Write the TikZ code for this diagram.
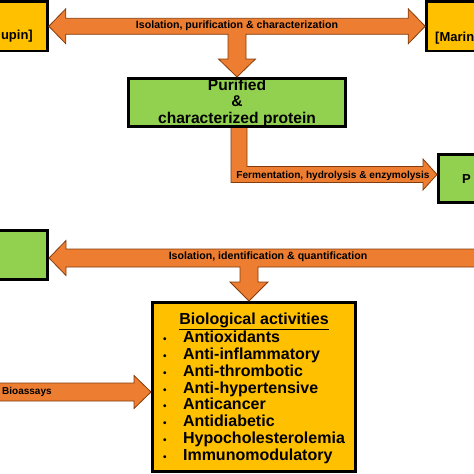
\documentclass[tikz,border=0pt]{standalone}
\usepackage{fontspec}
\setmainfont{Liberation Sans}
\usetikzlibrary{calc, positioning}
\definecolor{boxgreen}{HTML}{92D050}
\definecolor{boxgold}{HTML}{FFC000}
\definecolor{arroworange}{HTML}{ED7D31}
\definecolor{arrowline}{HTML}{843C0C}
\newcommand{\actbullet}{{\fontsize{10}{10}\selectfont\textbullet}}

\begin{document}
\begin{tikzpicture}[
    x=1pt, y=1pt,
    box/.style={draw=black, line width=2.6pt, align=center, inner sep=0pt},
    greenbox/.style={box, fill=boxgreen},
    goldbox/.style={box, fill=boxgold},
    srctext/.style={font=\fontsize{13}{16}\selectfont\bfseries, inner sep=0pt},
    fatarrow/.style={fill=arroworange, draw=arrowline, line width=0.8pt, line join=miter},
    arrowlabel/.style={font=\fontsize{10.6}{12}\selectfont\bfseries, inner sep=0pt}
]
\useasboundingbox (0,0) rectangle (474,-474);
\clip (0,0) rectangle (474,-474);

% boxes
\node[goldbox, minimum width=107.5pt, minimum height=49.5pt] (lupin) at (-6.25,-26.25) {};
\node[srctext, anchor=base east] (lupintext) at (33,-39) {upin]};
\node[goldbox, minimum width=113pt, minimum height=49.5pt] (marine) at (483,-26.25) {};
\node[srctext, anchor=base west] (marinetext) at (435,-41.5) {[Marin};

\node[greenbox, minimum width=217.4pt, minimum height=48.4pt, font=\fontsize{15.6}{16.5}\selectfont\bfseries] (purified) at (237,-102.5) {Purified\\\&\\characterized protein};

\node[greenbox, minimum width=121pt, minimum height=48.4pt] (protein) at (498.8,-178.5) {};
\node[srctext, anchor=base west] (proteintext) at (462,-183) {P};

\node[greenbox, minimum width=110pt, minimum height=49.4pt] (source) at (-7.3,-255) {};

\node[goldbox, minimum width=203.4pt, minimum height=169.4pt, font=\fontsize{16}{16.8}\selectfont\bfseries] (bio) at (254,-387) {\rule{0pt}{15.5pt}\underline{Biological activities}\\[0.5pt]
    \begin{tabular}{@{}l@{\hspace{16.5pt}}l@{}}
    \actbullet & Antioxidants\\
    \actbullet & Anti-inflammatory\\
    \actbullet & Anti-thrombotic\\
    \actbullet & Anti-hypertensive\\
    \actbullet & Anticancer\\
    \actbullet & Antidiabetic\\
    \actbullet & Hypocholesterolemia\\
    \actbullet & Immunomodulatory
    \end{tabular}};

% free ends
\coordinate (rightend) at (480,-258);
\coordinate (leftend) at (-10,-392);
\coordinate (fermstart) at (purified.south|-protein.west);

% block arrows
\draw[fatarrow] let \p1=(lupin.east), \p2=(marine.west), \p3=(purified.north) in
    (\x1,\y1) -- (\x1+17pt,\y1+17.5pt) -- (\x1+17pt,\y1+8pt) -- (\x2-17pt,\y1+8pt)
    -- (\x2-17pt,\y1+17.5pt) -- (\x2,\y1) -- (\x2-17pt,\y1-17.5pt) -- (\x2-17pt,\y1-8pt)
    -- (\x3+9pt,\y1-8pt) -- (\x3+9pt,\y3+18pt) -- (\x3+18.5pt,\y3+18pt) -- (\x3,\y3)
    -- (\x3-18.5pt,\y3+18pt) -- (\x3-9pt,\y3+18pt) -- (\x3-9pt,\y1-8pt)
    -- (\x1+17pt,\y1-8pt) -- (\x1+17pt,\y1-17.5pt) -- cycle;
\node[arrowlabel] (isolabel) at ($(lupin.east)!.5!(marine.west)$) {Isolation, purification \& characterization};

\draw[fatarrow] let \p1=(purified.south), \p2=(protein.west) in
    (\x1+10pt,\y1) -- (\x1+10pt,\y2+12pt) -- (\x2-14pt,\y2+12pt) -- (\x2-14pt,\y2+19.5pt)
    -- (\x2,\y2+4pt) -- (\x2-14pt,\y2-11.5pt) -- (\x2-14pt,\y2-4pt) -- (\x1-6pt,\y2-4pt)
    -- (\x1-6pt,\y1);
\node[arrowlabel, font=\fontsize{10.1}{12}\selectfont\bfseries] (fermlabel) at ($(fermstart)!.5!(protein.west)+(-4pt,2.5pt)$) {Fermentation, hydrolysis \& enzymolysis};

\draw[fatarrow] let \p1=(source.east), \p2=(rightend), \p3=(bio.north) in
    (\x1,\y2) -- (\x1+17pt,\y2+17.5pt) -- (\x1+17pt,\y2+9pt) -- (\x2,\y2+9pt) -- (\x2,\y2-9pt)
    -- (\x3+4pt,\y2-9pt) -- (\x3+4pt,\y3+19pt) -- (\x3+14pt,\y3+19pt) -- (\x3-5pt,\y3)
    -- (\x3-24pt,\y3+19pt) -- (\x3-14pt,\y3+19pt) -- (\x3-14pt,\y2-9pt)
    -- (\x1+17pt,\y2-9pt) -- (\x1+17pt,\y2-17.5pt) -- cycle;
\node[arrowlabel, xshift=3.5pt] (identlabel) at ($(source.east)!.5!(rightend)$) {Isolation, identification \& quantification};

\draw[fatarrow] let \p1=(leftend), \p2=(bio.west) in
    (\x1,\y1+9pt) -- (\x2-17pt,\y1+9pt) -- (\x2-17pt,\y1+16.5pt) -- (\x2,\y1)
    -- (\x2-17pt,\y1-16.5pt) -- (\x2-17pt,\y1-9pt) -- (\x1,\y1-9pt) -- cycle;
\node[arrowlabel, anchor=west, font=\fontsize{10}{12}\selectfont\bfseries] (assaylabel) at ($(leftend)+(12pt,0)$) {Bioassays};
\end{tikzpicture}
\end{document}
